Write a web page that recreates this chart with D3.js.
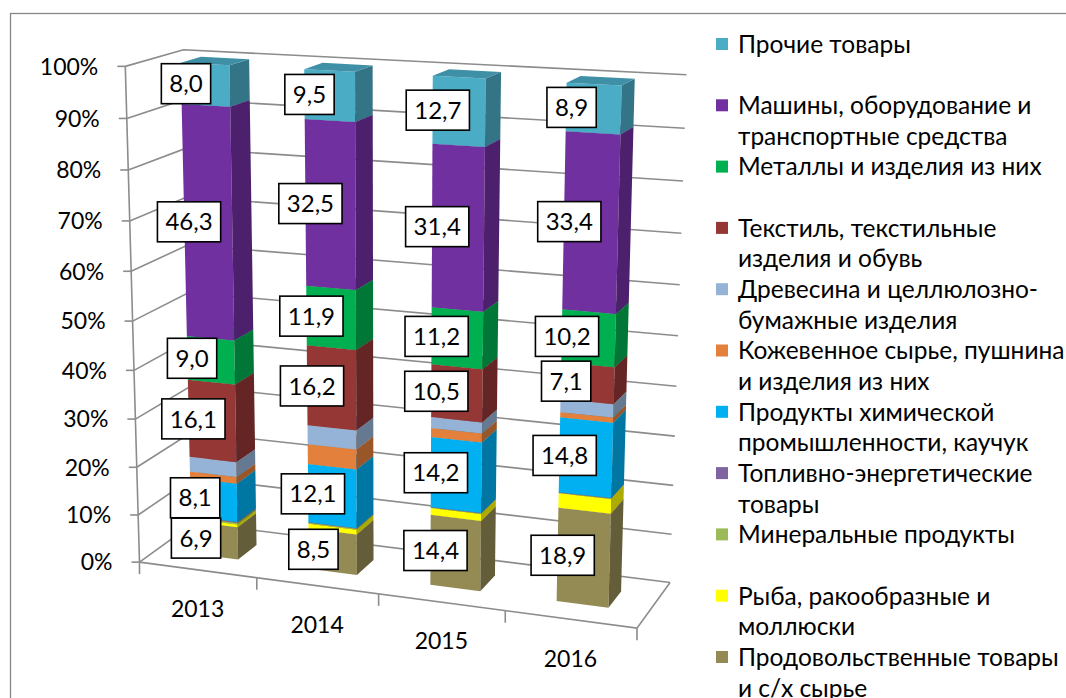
<!DOCTYPE html>
<html>
<head>
<meta charset="utf-8">
<script src="https://cdn.jsdelivr.net/npm/d3@7"></script>
<style>
  body { margin: 0; background: #fff; }
  svg { font-family: Lato, "Open Sans", sans-serif; }
</style>
</head>
<body>
<div id="chart"></div>
<script>
const w = 1066;
const h = 698;

// categories and tick labels
const years = ["2013", "2014", "2015", "2016"];
const yTicks = [0, 10, 20, 30, 40, 50, 60, 70, 80, 90, 100];

// series, bottom of the stack first
const food      = [6.9, 8.5, 14.4, 18.9];
const fish      = [0.6, 1.0, 1.4, 2.9];
const minerals  = [0.3, 0.2, 0.1, 0.1];
const fuel      = [0.2, 0.1, 0.1, 0.1];
const chemicals = [8.1, 12.1, 14.2, 14.8];
const leather   = [1.4, 4.1, 1.8, 1.0];
const wood      = [3.1, 3.9, 2.2, 2.6];
const textile   = [16.1, 16.2, 10.5, 7.1];
const metals    = [9.0, 11.9, 11.2, 10.2];
const machines  = [46.3, 32.5, 31.4, 33.4];
const other     = [8.0, 9.5, 12.7, 8.9];

const seriesKeys = ["food", "fish", "minerals", "fuel", "chemicals", "leather", "wood", "textile", "metals", "machines", "other"];
const seriesValues = [food, fish, minerals, fuel, chemicals, leather, wood, textile, metals, machines, other];
const seriesNames = [
  ["Продовольственные товары", "и с/х сырье"],
  ["Рыба, ракообразные и", "моллюски"],
  ["Минеральные продукты"],
  ["Топливно-энергетические", "товары"],
  ["Продукты химической", "промышленности, каучук"],
  ["Кожевенное сырье, пушнина", "и изделия из них"],
  ["Древесина и целлюлозно-", "бумажные изделия"],
  ["Текстиль, текстильные", "изделия и обувь"],
  ["Металлы и изделия из них"],
  ["Машины, оборудование и", "транспортные средства"],
  ["Прочие товары"]
];
const seriesColors = ["#948A54", "#FFFF00", "#9BBB59", "#8064A2", "#00B0F0", "#E2803C", "#95B3D7", "#953735", "#00B050", "#7030A0", "#4BACC6"];
const labelled = ["food", "chemicals", "textile", "metals", "machines", "other"];

// rows for d3.stack
const table = years.map((y, i) => {
  const row = { year: y };
  seriesKeys.forEach((k, j) => row[k] = seriesValues[j][i]);
  return row;
});
const stacked = d3.stack().keys(seriesKeys)(table);

// 3d box: x = category units 0..4, y = share 0..1, z = depth 0 (front) .. 1 (back wall)
// camera fitted to the corners of the walls and floor
const calib = [
  [0, 0, 0, 140, 563], [1, 0, 0, 257, 578], [2, 0, 0, 378, 594], [3, 0, 0, 505, 611], [4, 0, 0, 637, 628],
  [0, 1, 0, 125, 67], [0, 0.5, 0, 133, 319],
  [0, 1, 1, 183, 50], [4, 1, 1, 687, 75], [4, 0, 1, 670, 582]
];

function fitCamera(pts) {
  const A = [], b = [];
  pts.forEach(([X, Y, Z, u, v]) => {
    A.push([X, Y, Z, 1, 0, 0, 0, 0, -u * X, -u * Y, -u * Z]); b.push(u);
    A.push([0, 0, 0, 0, X, Y, Z, 1, -v * X, -v * Y, -v * Z]); b.push(v);
  });
  const n = 11;
  const M = d3.range(n).map(i => d3.range(n + 1).map(j =>
    j === n ? d3.sum(A, (r, k) => r[i] * b[k]) : d3.sum(A, r => r[i] * r[j])));
  for (let c = 0; c < n; c++) {
    let p = c;
    for (let r = c + 1; r < n; r++) if (Math.abs(M[r][c]) > Math.abs(M[p][c])) p = r;
    [M[c], M[p]] = [M[p], M[c]];
    for (let r = 0; r < n; r++) {
      if (r === c) continue;
      const f = M[r][c] / M[c][c];
      for (let k = c; k <= n; k++) M[r][k] -= f * M[c][k];
    }
  }
  return d3.range(n).map(i => M[i][n] / M[i][i]);
}
const P = fitCamera(calib);
const project = (X, Y, Z) => {
  const q = P[8] * X + P[9] * Y + P[10] * Z + 1;
  return [(P[0] * X + P[1] * Y + P[2] * Z + P[3]) / q, (P[4] * X + P[5] * Y + P[6] * Z + P[7]) / q];
};

const xScale = d3.scaleBand().domain(years).range([0, 4]).paddingInner(0.6).paddingOuter(0.3);
const yScale = d3.scaleLinear().domain([0, 100]).range([0, 1]);
const zFront = 0.32, zBack = 0.68;

const poly = pts => "M" + pts.map(p => project(...p).join(",")).join("L") + "Z";
const line = pts => "M" + pts.map(p => project(...p).join(",")).join("L");

const svg = d3.select("#chart").append("svg").attr("width", w).attr("height", h);

// chart frame
svg.append("rect")
  .attr("x", 10.5).attr("y", 13.5).attr("width", 1100).attr("height", 720)
  .attr("fill", "none").attr("stroke", "#868686").attr("stroke-width", 1.3);

// walls: gridlines on left wall and back wall
const grid = svg.append("g").attr("fill", "none").attr("stroke", "#8c8c8c").attr("stroke-width", 1.6);
grid.selectAll("path.grid")
  .data(yTicks)
  .enter().append("path")
  .attr("class", "grid")
  .attr("d", d => line([[0, yScale(d), 0], [0, yScale(d), 1], [4, yScale(d), 1]]));

// floor edges and axis lines
grid.append("path").attr("d", line([[0, 0, 0], [0, 1, 0]]));
grid.append("path").attr("d", line([[0, 0, 0], [4, 0, 0], [4, 0, 1]]));

// value axis ticks and labels
yTicks.forEach(t => {
  const [px, py] = project(0, yScale(t), 0);
  grid.append("path").attr("d", `M${px - 8},${py}L${px},${py}`);
  svg.append("text")
    .attr("x", px - 27).attr("y", py).attr("dy", "0.36em")
    .attr("text-anchor", "end").attr("font-size", 23).attr("fill", "#000")
    .text(t + "%");
});

// category ticks and labels
d3.range(5).forEach(k => {
  const [px, py] = project(k, 0, 0);
  grid.append("path").attr("d", `M${px},${py}L${px},${py + 12}`);
});
years.forEach(y => {
  const [px, py] = project(xScale(y) + xScale.bandwidth() / 2, 0, 0);
  svg.append("text")
    .attr("x", px).attr("y", py + 39).attr("dy", "0.36em")
    .attr("text-anchor", "middle").attr("font-size", 23).attr("fill", "#000")
    .text(y);
});

// bars: each segment as front, right side and top faces
const bars = svg.append("g");
years.forEach((y, i) => {
  const x0 = xScale(y), x1 = x0 + xScale.bandwidth();
  stacked.forEach((s, j) => {
    const y0 = yScale(s[i][0]), y1 = yScale(s[i][1]);
    if (y1 - y0 <= 0) return;
    const c = seriesColors[j];
    const g = bars.append("g").attr("class", "seg " + s.key);
    g.append("path").attr("fill", c)
      .attr("d", poly([[x0, y0, zFront], [x1, y0, zFront], [x1, y1, zFront], [x0, y1, zFront]]));
    g.append("path").attr("fill", d3.color(c).darker(1.1))
      .attr("d", poly([[x1, y0, zFront], [x1, y0, zBack], [x1, y1, zBack], [x1, y1, zFront]]));
    g.append("path").attr("fill", d3.color(c).darker(0.5))
      .attr("d", poly([[x0, y1, zFront], [x1, y1, zFront], [x1, y1, zBack], [x0, y1, zBack]]));
  });
});

// data labels
const fmt = v => d3.format(".1f")(v).replace(".", ",");
stacked.filter(s => labelled.includes(s.key)).forEach(s => {
  years.forEach((y, i) => {
    const mid = (s[i][0] + s[i][1]) / 2;
    const [px, py] = project(xScale(y) + 0.04, yScale(mid), zFront);
    const g = svg.append("g").attr("class", "label");
    const box = g.append("rect").attr("fill", "#fff").attr("stroke", "#000").attr("stroke-width", 1.6);
    const txt = g.append("text")
      .attr("x", px).attr("y", py).attr("dy", "0.36em")
      .attr("text-anchor", "middle").attr("font-size", 24).attr("fill", "#000")
      .text(fmt(s[i][1] - s[i][0]));
    const tw = txt.node().getComputedTextLength();
    box.attr("x", px - tw / 2 - 8).attr("y", py - 20).attr("width", tw + 16).attr("height", 40);
  });
});

// legend, top entry first
const legend = svg.append("g").attr("font-size", 24.5);
const legendOrder = d3.range(seriesKeys.length).reverse();
legendOrder.forEach((j, n) => {
  const cy = 44 + n * 61.3;
  legend.append("rect")
    .attr("x", 716).attr("y", cy - 6).attr("width", 12).attr("height", 12)
    .attr("fill", seriesColors[j]);
  seriesNames[j].forEach((t, k) => {
    legend.append("text")
      .attr("x", 738).attr("y", cy + k * 30.7).attr("dy", "0.36em")
      .attr("fill", "#000")
      .text(t);
  });
});
</script>
</body>
</html>
